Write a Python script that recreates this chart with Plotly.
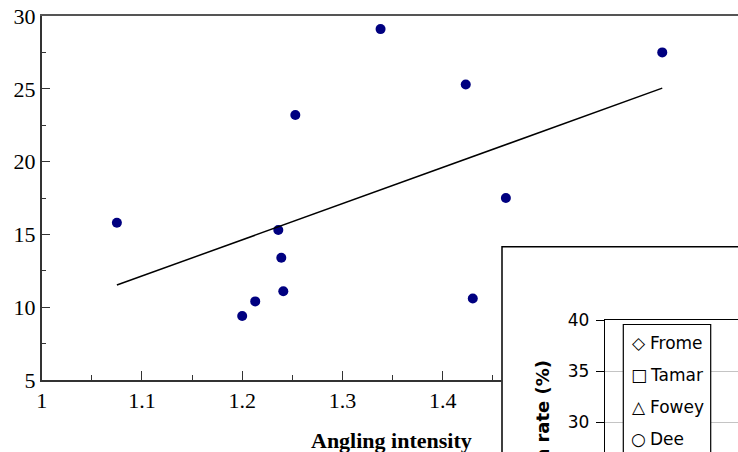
import numpy as np
import plotly.graph_objects as go

# Angling intensity vs. rate, one point per site
intensity = [1.075, 1.253, 1.338, 1.423, 1.619, 1.463, 1.430, 1.236, 1.239, 1.241, 1.213, 1.200]
rate = [15.8, 23.2, 29.1, 25.3, 27.5, 17.5, 10.6, 15.3, 13.4, 11.1, 10.4, 9.4]

# Inset panel: rivers and their legend glyphs
rivers = ["Frome", "Tamar", "Fowey", "Dee"]
river_glyphs = ["\u25C7", "\u25A1", "\u25B3", "\u25CB"]
river_symbols = ["diamond-open", "square-open", "triangle-up-open", "circle-open"]
inset_top_value = 40

# ---- page geometry (pixels) ----
W, H = 738, 452
AX_LEFT = 41.7          # main y-axis position
PLOT_TOP, PLOT_BOTTOM = 16, 380
X_SCALE = 1002.5        # pixels per unit of angling intensity
INSET_LEFT, INSET_TOP = 502, 246.7
INSET_AX_LEFT, INSET_AX_TOP = 605, 320.3
INSET_Y_SCALE = 10.17   # pixels per percentage point
LEG_LEFT, LEG_RIGHT, LEG_TOP = 623.3, 710.7, 324.5
LEG_ROW0, LEG_PITCH = 342.7, 32


def px(x):
    return x / W


def py(y):
    return 1 - y / H


serif = "Liberation Serif, Times New Roman, serif"
sans = "DejaVu Sans, Arial, sans-serif"
axis_col = "#333333"

# least-squares trend line across the observed range
slope, intercept = np.polyfit(intensity, rate, 1)
trend_x = np.array([min(intensity), max(intensity)])
trend_y = slope * trend_x + intercept

fig = go.Figure()
fig.add_trace(go.Scatter(
    x=intensity, y=rate, mode="markers",
    marker=dict(color="#000080", size=10),
    xaxis="x", yaxis="y", cliponaxis=False, showlegend=False,
))
fig.add_trace(go.Scatter(
    x=trend_x, y=trend_y, mode="lines",
    line=dict(color="black", width=1.5),
    xaxis="x", yaxis="y", showlegend=False,
))
# same sites registered on the visible bottom axis (markers transparent)
fig.add_trace(go.Scatter(
    x=intensity, y=rate, mode="markers",
    marker=dict(color="#000080", size=10, opacity=0),
    xaxis="x3", yaxis="y", hoverinfo="skip", showlegend=False,
))
# inset series (no values fall inside the shown window)
for name, sym in zip(rivers, river_symbols):
    fig.add_trace(go.Scatter(
        x=[], y=[], mode="markers", name=name,
        marker=dict(symbol=sym, color="black", size=9),
        xaxis="x2", yaxis="y2", showlegend=False,
    ))

x_max_full = 1 + (W - AX_LEFT) / X_SCALE
x_max_visible = 1 + (INSET_LEFT - AX_LEFT) / X_SCALE

fig.update_layout(
    width=W, height=H,
    margin=dict(l=0, r=0, t=0, b=0),
    paper_bgcolor="white",
    plot_bgcolor="rgba(0,0,0,0)",
    showlegend=False,
    # data axis spanning the full panel; only its top frame line is drawn
    xaxis=dict(
        domain=[px(AX_LEFT), 1], range=[1, x_max_full], anchor="y", side="top",
        showline=True, linecolor="#555555", linewidth=1.5,
        ticks="", showticklabels=False, showgrid=False, zeroline=False,
        automargin=False,
    ),
    # visible bottom axis, stopping at the inset frame
    xaxis3=dict(
        domain=[px(AX_LEFT), px(INSET_LEFT)], range=[1, x_max_visible],
        anchor="y", side="bottom",
        showline=True, linecolor=axis_col, linewidth=1.5,
        ticks="inside", ticklen=9, tickwidth=1.2, tickcolor=axis_col,
        tick0=1, dtick=0.1,
        minor=dict(ticks="inside", ticklen=5, tickwidth=1, tickcolor=axis_col, dtick=0.05),
        tickfont=dict(family=serif, size=22, color="black"),
        showgrid=False, zeroline=False, automargin=False,
    ),
    yaxis=dict(
        domain=[py(PLOT_BOTTOM), py(PLOT_TOP)], range=[5, 30], anchor="x",
        showline=True, linecolor=axis_col, linewidth=1.5,
        ticks="inside", ticklen=9, tickwidth=1.2, tickcolor=axis_col,
        tick0=0, dtick=5,
        minor=dict(ticks="inside", ticklen=5, tickwidth=1, tickcolor=axis_col, dtick=2.5),
        tickfont=dict(family=serif, size=22, color="black"),
        showgrid=False, zeroline=False, automargin=False,
    ),
    # inset panel axes
    xaxis2=dict(
        domain=[px(INSET_AX_LEFT), 1], range=[0, 1], anchor="y2", side="top",
        showline=True, linecolor="black", linewidth=1.3,
        ticks="", showticklabels=False, showgrid=False, zeroline=False,
        automargin=False,
    ),
    yaxis2=dict(
        domain=[0, py(INSET_AX_TOP)],
        range=[inset_top_value - (H - INSET_AX_TOP) / INSET_Y_SCALE, inset_top_value],
        anchor="x2",
        showline=True, linecolor="black", linewidth=1.3,
        ticks="outside", ticklen=8, tickwidth=1, tickcolor="black",
        ticklabelstandoff=3,
        tick0=0, dtick=5,
        tickfont=dict(family=sans, size=17, color="black"),
        showgrid=True, gridcolor="#c4c4c4", gridwidth=1,
        zeroline=False, automargin=False,
    ),
)

shapes = [
    # inset frame
    dict(type="rect", xref="paper", yref="paper",
         x0=px(INSET_LEFT), x1=1.05, y0=-0.05, y1=py(INSET_TOP),
         line=dict(color="black", width=1.5), fillcolor="white", layer="below"),
    # inset legend box
    dict(type="rect", xref="paper", yref="paper",
         x0=px(LEG_LEFT), x1=px(LEG_RIGHT), y0=-0.05, y1=py(LEG_TOP),
         line=dict(color="black", width=1.2), fillcolor="white", layer="above"),
]
fig.update_layout(shapes=shapes)

annotations = [
    dict(text="<b>Angling intensity</b>", xref="paper", yref="paper",
         x=px(391.5), y=py(440), xanchor="center", yanchor="middle",
         showarrow=False, font=dict(family=serif, size=22, color="black")),
    dict(text="<b>Exploitation rate (%)</b>", xref="paper", yref="paper",
         x=px(542), y=py(466), xanchor="center", yanchor="middle",
         textangle=-90, showarrow=False,
         font=dict(family=sans, size=18, color="black")),
]
for i, (name, glyph) in enumerate(zip(rivers, river_glyphs)):
    row_y = py(LEG_ROW0 + i * LEG_PITCH)
    annotations.append(dict(
        text=glyph, xref="paper", yref="paper", x=px(638.5), y=row_y,
        xanchor="center", yanchor="middle", showarrow=False,
        font=dict(family=sans, size=17, color="black")))
    annotations.append(dict(
        text=name, xref="paper", yref="paper", x=px(647.5), y=row_y,
        xanchor="left", yanchor="middle", showarrow=False,
        font=dict(family=sans, size=17, color="black")))
fig.update_layout(annotations=annotations)

fig.write_html("out.html")
